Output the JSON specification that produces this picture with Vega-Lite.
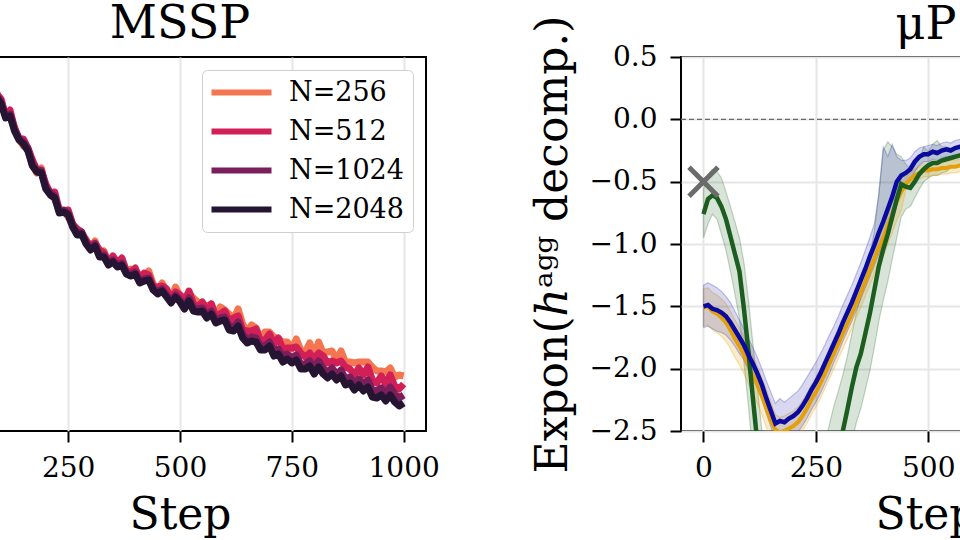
{
  "$schema": "https://vega.github.io/schema/vega-lite/v6.json",
  "background": "white",
  "autosize": {"type": "none"},
  "padding": {"left": -66, "right": 1026, "top": 57, "bottom": 483},
  "resolve": {"legend": {"color": "independent"}, "scale": {"color": "independent"}},
  "datasets": {
    "mssp": [
      {"step":0,"n256":4.22,"n512":4.26,"n1024":4.23,"n2048":4.21},
      {"step":10,"n256":4.17,"n512":4.16,"n1024":4.16,"n2048":4.14},
      {"step":20,"n256":3.99,"n512":4.06,"n1024":4.02,"n2048":4.00},
      {"step":30,"n256":4.01,"n512":4.00,"n1024":3.99,"n2048":3.97},
      {"step":40,"n256":3.84,"n512":3.84,"n1024":3.85,"n2048":3.83},
      {"step":50,"n256":3.70,"n512":3.77,"n1024":3.74,"n2048":3.72},
      {"step":60,"n256":3.69,"n512":3.69,"n1024":3.68,"n2048":3.66},
      {"step":70,"n256":3.60,"n512":3.65,"n1024":3.61,"n2048":3.59},
      {"step":80,"n256":3.41,"n512":3.44,"n1024":3.44,"n2048":3.42},
      {"step":90,"n256":3.39,"n512":3.37,"n1024":3.36,"n2048":3.34},
      {"step":100,"n256":3.28,"n512":3.32,"n1024":3.29,"n2048":3.27},
      {"step":110,"n256":3.16,"n512":3.15,"n1024":3.15,"n2048":3.13},
      {"step":120,"n256":3.14,"n512":3.21,"n1024":3.17,"n2048":3.15},
      {"step":130,"n256":3.04,"n512":3.03,"n1024":3.02,"n2048":3.00},
      {"step":140,"n256":2.92,"n512":2.92,"n1024":2.93,"n2048":2.91},
      {"step":150,"n256":2.85,"n512":2.92,"n1024":2.89,"n2048":2.87},
      {"step":160,"n256":2.83,"n512":2.83,"n1024":2.82,"n2048":2.80},
      {"step":170,"n256":2.66,"n512":2.71,"n1024":2.67,"n2048":2.65},
      {"step":180,"n256":2.58,"n512":2.61,"n1024":2.61,"n2048":2.59},
      {"step":190,"n256":2.63,"n512":2.61,"n1024":2.60,"n2048":2.58},
      {"step":200,"n256":2.43,"n512":2.47,"n1024":2.44,"n2048":2.42},
      {"step":210,"n256":2.39,"n512":2.38,"n1024":2.38,"n2048":2.36},
      {"step":220,"n256":2.32,"n512":2.39,"n1024":2.35,"n2048":2.33},
      {"step":230,"n256":2.22,"n512":2.21,"n1024":2.20,"n2048":2.18},
      {"step":240,"n256":2.20,"n512":2.20,"n1024":2.21,"n2048":2.19},
      {"step":250,"n256":2.14,"n512":2.21,"n1024":2.18,"n2048":2.16},
      {"step":260,"n256":2.07,"n512":2.07,"n1024":2.06,"n2048":2.04},
      {"step":270,"n256":1.97,"n512":2.02,"n1024":1.98,"n2048":1.96},
      {"step":280,"n256":1.96,"n512":1.99,"n1024":1.99,"n2048":1.97},
      {"step":290,"n256":1.92,"n512":1.90,"n1024":1.89,"n2048":1.87},
      {"step":300,"n256":1.82,"n512":1.86,"n1024":1.83,"n2048":1.81},
      {"step":310,"n256":1.90,"n512":1.88,"n1024":1.87,"n2048":1.85},
      {"step":320,"n256":1.75,"n512":1.81,"n1024":1.76,"n2048":1.74},
      {"step":330,"n256":1.80,"n512":1.78,"n1024":1.76,"n2048":1.74},
      {"step":340,"n256":1.69,"n512":1.68,"n1024":1.68,"n2048":1.66},
      {"step":350,"n256":1.69,"n512":1.75,"n1024":1.71,"n2048":1.69},
      {"step":360,"n256":1.69,"n512":1.68,"n1024":1.66,"n2048":1.64},
      {"step":370,"n256":1.69,"n512":1.73,"n1024":1.68,"n2048":1.66},
      {"step":380,"n256":1.58,"n512":1.60,"n1024":1.59,"n2048":1.57},
      {"step":390,"n256":1.62,"n512":1.59,"n1024":1.57,"n2048":1.55},
      {"step":400,"n256":1.60,"n512":1.63,"n1024":1.59,"n2048":1.57},
      {"step":410,"n256":1.56,"n512":1.52,"n1024":1.50,"n2048":1.48},
      {"step":420,"n256":1.54,"n512":1.58,"n1024":1.52,"n2048":1.50},
      {"step":430,"n256":1.60,"n512":1.56,"n1024":1.53,"n2048":1.51},
      {"step":440,"n256":1.47,"n512":1.44,"n1024":1.43,"n2048":1.41},
      {"step":450,"n256":1.40,"n512":1.44,"n1024":1.39,"n2048":1.37},
      {"step":460,"n256":1.48,"n512":1.45,"n1024":1.42,"n2048":1.40},
      {"step":470,"n256":1.40,"n512":1.42,"n1024":1.36,"n2048":1.34},
      {"step":480,"n256":1.32,"n512":1.32,"n1024":1.30,"n2048":1.28},
      {"step":490,"n256":1.44,"n512":1.39,"n1024":1.36,"n2048":1.34},
      {"step":500,"n256":1.35,"n512":1.36,"n1024":1.31,"n2048":1.29},
      {"step":510,"n256":1.34,"n512":1.28,"n1024":1.25,"n2048":1.22},
      {"step":520,"n256":1.38,"n512":1.40,"n1024":1.33,"n2048":1.30},
      {"step":530,"n256":1.33,"n512":1.27,"n1024":1.23,"n2048":1.20},
      {"step":540,"n256":1.29,"n512":1.24,"n1024":1.22,"n2048":1.19},
      {"step":550,"n256":1.27,"n512":1.29,"n1024":1.23,"n2048":1.20},
      {"step":560,"n256":1.25,"n512":1.20,"n1024":1.16,"n2048":1.13},
      {"step":570,"n256":1.27,"n512":1.27,"n1024":1.20,"n2048":1.17},
      {"step":580,"n256":1.16,"n512":1.14,"n1024":1.11,"n2048":1.08},
      {"step":590,"n256":1.24,"n512":1.17,"n1024":1.13,"n2048":1.10},
      {"step":600,"n256":1.21,"n512":1.20,"n1024":1.14,"n2048":1.11},
      {"step":610,"n256":1.17,"n512":1.10,"n1024":1.05,"n2048":1.01},
      {"step":620,"n256":1.12,"n512":1.13,"n1024":1.04,"n2048":1.00},
      {"step":630,"n256":1.22,"n512":1.15,"n1024":1.09,"n2048":1.05},
      {"step":640,"n256":1.07,"n512":1.01,"n1024":0.97,"n2048":0.93},
      {"step":650,"n256":0.99,"n512":1.00,"n1024":0.92,"n2048":0.88},
      {"step":660,"n256":1.06,"n512":1.00,"n1024":0.94,"n2048":0.90},
      {"step":670,"n256":1.03,"n512":1.02,"n1024":0.93,"n2048":0.89},
      {"step":680,"n256":0.93,"n512":0.90,"n1024":0.85,"n2048":0.81},
      {"step":690,"n256":0.99,"n512":0.91,"n1024":0.85,"n2048":0.81},
      {"step":700,"n256":0.99,"n512":0.97,"n1024":0.89,"n2048":0.85},
      {"step":710,"n256":0.94,"n512":0.87,"n1024":0.80,"n2048":0.75},
      {"step":720,"n256":0.92,"n512":0.93,"n1024":0.82,"n2048":0.77},
      {"step":730,"n256":0.89,"n512":0.82,"n1024":0.74,"n2048":0.69},
      {"step":740,"n256":0.89,"n512":0.83,"n1024":0.77,"n2048":0.72},
      {"step":750,"n256":0.82,"n512":0.83,"n1024":0.73,"n2048":0.68},
      {"step":760,"n256":0.92,"n512":0.84,"n1024":0.76,"n2048":0.71},
      {"step":770,"n256":0.81,"n512":0.78,"n1024":0.67,"n2048":0.62},
      {"step":780,"n256":0.79,"n512":0.74,"n1024":0.67,"n2048":0.62},
      {"step":790,"n256":0.88,"n512":0.78,"n1024":0.70,"n2048":0.65},
      {"step":800,"n256":0.76,"n512":0.72,"n1024":0.62,"n2048":0.57},
      {"step":810,"n256":0.89,"n512":0.78,"n1024":0.70,"n2048":0.64},
      {"step":820,"n256":0.78,"n512":0.75,"n1024":0.63,"n2048":0.57},
      {"step":830,"n256":0.79,"n512":0.68,"n1024":0.59,"n2048":0.53},
      {"step":840,"n256":0.80,"n512":0.70,"n1024":0.63,"n2048":0.57},
      {"step":850,"n256":0.71,"n512":0.68,"n1024":0.57,"n2048":0.51},
      {"step":860,"n256":0.80,"n512":0.70,"n1024":0.61,"n2048":0.55},
      {"step":870,"n256":0.69,"n512":0.64,"n1024":0.52,"n2048":0.46},
      {"step":880,"n256":0.69,"n512":0.62,"n1024":0.54,"n2048":0.48},
      {"step":890,"n256":0.68,"n512":0.56,"n1024":0.47,"n2048":0.41},
      {"step":900,"n256":0.69,"n512":0.63,"n1024":0.52,"n2048":0.46},
      {"step":910,"n256":0.69,"n512":0.56,"n1024":0.47,"n2048":0.40},
      {"step":920,"n256":0.69,"n512":0.64,"n1024":0.51,"n2048":0.44},
      {"step":930,"n256":0.64,"n512":0.51,"n1024":0.41,"n2048":0.34},
      {"step":940,"n256":0.60,"n512":0.48,"n1024":0.40,"n2048":0.33},
      {"step":950,"n256":0.60,"n512":0.55,"n1024":0.43,"n2048":0.36},
      {"step":960,"n256":0.59,"n512":0.47,"n1024":0.38,"n2048":0.30},
      {"step":970,"n256":0.63,"n512":0.56,"n1024":0.44,"n2048":0.36},
      {"step":980,"n256":0.54,"n512":0.45,"n1024":0.37,"n2048":0.29},
      {"step":990,"n256":0.56,"n512":0.42,"n1024":0.33,"n2048":0.25},
      {"step":1000,"n256":0.55,"n512":0.47,"n1024":0.36,"n2048":0.28}
    ],
    "mup": [
      {"step":0,"b":-1.50,"bl":-1.67,"bh":-1.33,"o":-1.51,"ol":-1.66,"oh":-1.36,"g":-0.76,"gl":-0.95,"gh":-0.56},
      {"step":10,"b":-1.49,"bl":-1.66,"bh":-1.31,"o":-1.50,"ol":-1.65,"oh":-1.35,"g":-0.64,"gl":-0.84,"gh":-0.44},
      {"step":20,"b":-1.52,"bl":-1.68,"bh":-1.33,"o":-1.54,"ol":-1.69,"oh":-1.39,"g":-0.61,"gl":-0.76,"gh":-0.40},
      {"step":30,"b":-1.53,"bl":-1.70,"bh":-1.35,"o":-1.56,"ol":-1.71,"oh":-1.41,"g":-0.63,"gl":-0.80,"gh":-0.42},
      {"step":40,"b":-1.55,"bl":-1.71,"bh":-1.38,"o":-1.59,"ol":-1.74,"oh":-1.44,"g":-0.70,"gl":-0.92,"gh":-0.47},
      {"step":50,"b":-1.58,"bl":-1.73,"bh":-1.42,"o":-1.63,"ol":-1.78,"oh":-1.48,"g":-0.80,"gl":-1.05,"gh":-0.58},
      {"step":60,"b":-1.63,"bl":-1.77,"bh":-1.47,"o":-1.69,"ol":-1.84,"oh":-1.54,"g":-0.94,"gl":-1.22,"gh":-0.70},
      {"step":70,"b":-1.69,"bl":-1.82,"bh":-1.54,"o":-1.76,"ol":-1.91,"oh":-1.61,"g":-1.08,"gl":-1.40,"gh":-0.82},
      {"step":80,"b":-1.75,"bl":-1.88,"bh":-1.61,"o":-1.82,"ol":-1.97,"oh":-1.67,"g":-1.22,"gl":-1.60,"gh":-0.95},
      {"step":90,"b":-1.81,"bl":-1.93,"bh":-1.68,"o":-1.89,"ol":-2.04,"oh":-1.74,"g":-1.52,"gl":-1.95,"gh":-1.15},
      {"step":100,"b":-1.89,"bl":-2.01,"bh":-1.76,"o":-1.97,"ol":-2.12,"oh":-1.82,"g":-1.86,"gl":-2.30,"gh":-1.45},
      {"step":110,"b":-1.96,"bl":-2.08,"bh":-1.83,"o":-2.05,"ol":-2.20,"oh":-1.90,"g":-2.24,"gl":-2.70,"gh":-1.80},
      {"step":120,"b":-2.04,"bl":-2.16,"bh":-1.91,"o":-2.13,"ol":-2.28,"oh":-1.98,"g":-2.60,"gl":-3.05,"gh":-2.15},
      {"step":130,"b":-2.13,"bl":-2.25,"bh":-2.00,"o":-2.22,"ol":-2.37,"oh":-2.07,"g":-2.95,"gl":-3.40,"gh":-2.50},
      {"step":140,"b":-2.24,"bl":-2.36,"bh":-2.10,"o":-2.32,"ol":-2.47,"oh":-2.17,"g":-3.30,"gl":-3.70,"gh":-2.90},
      {"step":150,"b":-2.34,"bl":-2.47,"bh":-2.19,"o":-2.42,"ol":-2.57,"oh":-2.27,"g":-3.55,"gl":-3.95,"gh":-3.15},
      {"step":160,"b":-2.44,"bl":-2.58,"bh":-2.28,"o":-2.49,"ol":-2.61,"oh":-2.37,"g":-3.75,"gl":-4.15,"gh":-3.35},
      {"step":170,"b":-2.42,"bl":-2.58,"bh":-2.24,"o":-2.51,"ol":-2.63,"oh":-2.39,"g":-3.90,"gl":-4.30,"gh":-3.50},
      {"step":180,"b":-2.43,"bl":-2.57,"bh":-2.27,"o":-2.50,"ol":-2.62,"oh":-2.38,"g":-4.00,"gl":-4.40,"gh":-3.60},
      {"step":190,"b":-2.40,"bl":-2.55,"bh":-2.24,"o":-2.48,"ol":-2.60,"oh":-2.36,"g":-4.05,"gl":-4.45,"gh":-3.65},
      {"step":200,"b":-2.38,"bl":-2.53,"bh":-2.21,"o":-2.46,"ol":-2.58,"oh":-2.34,"g":-4.05,"gl":-4.45,"gh":-3.65},
      {"step":210,"b":-2.35,"bl":-2.51,"bh":-2.18,"o":-2.43,"ol":-2.55,"oh":-2.31,"g":-4.00,"gl":-4.40,"gh":-3.60},
      {"step":220,"b":-2.30,"bl":-2.46,"bh":-2.13,"o":-2.38,"ol":-2.50,"oh":-2.26,"g":-3.90,"gl":-4.30,"gh":-3.50},
      {"step":230,"b":-2.24,"bl":-2.40,"bh":-2.07,"o":-2.32,"ol":-2.44,"oh":-2.20,"g":-3.75,"gl":-4.15,"gh":-3.35},
      {"step":240,"b":-2.17,"bl":-2.33,"bh":-2.01,"o":-2.25,"ol":-2.37,"oh":-2.13,"g":-3.60,"gl":-4.00,"gh":-3.20},
      {"step":250,"b":-2.11,"bl":-2.27,"bh":-1.95,"o":-2.19,"ol":-2.31,"oh":-2.07,"g":-3.40,"gl":-3.80,"gh":-3.00},
      {"step":260,"b":-2.04,"bl":-2.20,"bh":-1.88,"o":-2.12,"ol":-2.24,"oh":-2.00,"g":-3.20,"gl":-3.60,"gh":-2.80},
      {"step":270,"b":-1.96,"bl":-2.12,"bh":-1.81,"o":-2.04,"ol":-2.16,"oh":-1.92,"g":-3.00,"gl":-3.40,"gh":-2.60},
      {"step":280,"b":-1.88,"bl":-2.04,"bh":-1.73,"o":-1.96,"ol":-2.08,"oh":-1.84,"g":-2.85,"gl":-3.25,"gh":-2.45},
      {"step":290,"b":-1.80,"bl":-1.95,"bh":-1.66,"o":-1.88,"ol":-2.00,"oh":-1.76,"g":-2.72,"gl":-3.12,"gh":-2.30},
      {"step":300,"b":-1.72,"bl":-1.87,"bh":-1.58,"o":-1.80,"ol":-1.92,"oh":-1.68,"g":-2.60,"gl":-3.00,"gh":-2.18},
      {"step":310,"b":-1.63,"bl":-1.78,"bh":-1.49,"o":-1.72,"ol":-1.84,"oh":-1.60,"g":-2.50,"gl":-2.95,"gh":-2.05},
      {"step":320,"b":-1.55,"bl":-1.70,"bh":-1.41,"o":-1.64,"ol":-1.76,"oh":-1.52,"g":-2.33,"gl":-2.78,"gh":-1.90},
      {"step":330,"b":-1.47,"bl":-1.62,"bh":-1.33,"o":-1.56,"ol":-1.68,"oh":-1.44,"g":-2.15,"gl":-2.60,"gh":-1.72},
      {"step":340,"b":-1.38,"bl":-1.53,"bh":-1.24,"o":-1.47,"ol":-1.59,"oh":-1.35,"g":-1.99,"gl":-2.43,"gh":-1.55},
      {"step":350,"b":-1.29,"bl":-1.44,"bh":-1.15,"o":-1.39,"ol":-1.51,"oh":-1.27,"g":-1.88,"gl":-2.32,"gh":-1.42},
      {"step":360,"b":-1.20,"bl":-1.35,"bh":-1.05,"o":-1.30,"ol":-1.42,"oh":-1.18,"g":-1.72,"gl":-2.17,"gh":-1.27},
      {"step":370,"b":-1.10,"bl":-1.26,"bh":-0.95,"o":-1.21,"ol":-1.33,"oh":-1.09,"g":-1.56,"gl":-2.02,"gh":-1.10},
      {"step":380,"b":-1.01,"bl":-1.17,"bh":-0.84,"o":-1.12,"ol":-1.24,"oh":-1.00,"g":-1.37,"gl":-1.83,"gh":-0.90},
      {"step":390,"b":-0.91,"bl":-1.08,"bh":-0.60,"o":-1.03,"ol":-1.15,"oh":-0.91,"g":-1.18,"gl":-1.62,"gh":-0.60},
      {"step":400,"b":-0.82,"bl":-1.00,"bh":-0.22,"o":-0.95,"ol":-1.10,"oh":-0.80,"g":-1.04,"gl":-1.45,"gh":-0.25},
      {"step":410,"b":-0.72,"bl":-0.92,"bh":-0.30,"o":-0.85,"ol":-1.00,"oh":-0.70,"g":-0.92,"gl":-1.30,"gh":-0.18},
      {"step":420,"b":-0.62,"bl":-0.82,"bh":-0.20,"o":-0.76,"ol":-0.91,"oh":-0.61,"g":-0.78,"gl":-1.12,"gh":-0.22},
      {"step":430,"b":-0.50,"bl":-0.68,"bh":-0.30,"o":-0.66,"ol":-0.81,"oh":-0.51,"g":-0.64,"gl":-0.95,"gh":-0.28},
      {"step":440,"b":-0.45,"bl":-0.57,"bh":-0.33,"o":-0.58,"ol":-0.73,"oh":-0.43,"g":-0.52,"gl":-0.78,"gh":-0.30},
      {"step":450,"b":-0.43,"bl":-0.52,"bh":-0.33,"o":-0.52,"ol":-0.57,"oh":-0.47,"g":-0.54,"gl":-0.72,"gh":-0.36},
      {"step":460,"b":-0.40,"bl":-0.48,"bh":-0.31,"o":-0.48,"ol":-0.53,"oh":-0.43,"g":-0.55,"gl":-0.70,"gh":-0.40},
      {"step":470,"b":-0.34,"bl":-0.42,"bh":-0.26,"o":-0.45,"ol":-0.50,"oh":-0.40,"g":-0.50,"gl":-0.63,"gh":-0.36},
      {"step":480,"b":-0.30,"bl":-0.37,"bh":-0.23,"o":-0.43,"ol":-0.48,"oh":-0.38,"g":-0.44,"gl":-0.56,"gh":-0.32},
      {"step":490,"b":-0.28,"bl":-0.34,"bh":-0.22,"o":-0.41,"ol":-0.46,"oh":-0.36,"g":-0.40,"gl":-0.50,"gh":-0.22},
      {"step":500,"b":-0.28,"bl":-0.34,"bh":-0.21,"o":-0.41,"ol":-0.46,"oh":-0.36,"g":-0.37,"gl":-0.47,"gh":-0.26},
      {"step":510,"b":-0.26,"bl":-0.32,"bh":-0.20,"o":-0.40,"ol":-0.45,"oh":-0.35,"g":-0.35,"gl":-0.45,"gh":-0.20},
      {"step":520,"b":-0.27,"bl":-0.33,"bh":-0.21,"o":-0.40,"ol":-0.45,"oh":-0.35,"g":-0.35,"gl":-0.45,"gh":-0.17},
      {"step":530,"b":-0.25,"bl":-0.31,"bh":-0.19,"o":-0.39,"ol":-0.44,"oh":-0.34,"g":-0.33,"gl":-0.43,"gh":-0.22},
      {"step":540,"b":-0.24,"bl":-0.30,"bh":-0.18,"o":-0.39,"ol":-0.44,"oh":-0.34,"g":-0.32,"gl":-0.42,"gh":-0.22},
      {"step":550,"b":-0.25,"bl":-0.31,"bh":-0.19,"o":-0.38,"ol":-0.43,"oh":-0.33,"g":-0.31,"gl":-0.39,"gh":-0.23},
      {"step":560,"b":-0.23,"bl":-0.29,"bh":-0.17,"o":-0.38,"ol":-0.43,"oh":-0.33,"g":-0.30,"gl":-0.38,"gh":-0.22},
      {"step":570,"b":-0.22,"bl":-0.28,"bh":-0.16,"o":-0.37,"ol":-0.42,"oh":-0.32,"g":-0.29,"gl":-0.37,"gh":-0.21},
      {"step":580,"b":-0.23,"bl":-0.29,"bh":-0.17,"o":-0.38,"ol":-0.43,"oh":-0.33,"g":-0.29,"gl":-0.37,"gh":-0.21},
      {"step":590,"b":-0.22,"bl":-0.28,"bh":-0.16,"o":-0.37,"ol":-0.42,"oh":-0.32,"g":-0.28,"gl":-0.36,"gh":-0.20},
      {"step":600,"b":-0.22,"bl":-0.28,"bh":-0.16,"o":-0.37,"ol":-0.42,"oh":-0.32,"g":-0.28,"gl":-0.36,"gh":-0.20}
    ]
  },
  "spacing": 89,
  "hconcat": [
    {
      "width": 492,
      "height": 374,
      "title": {"text": "MSSP", "offset": 9},
      "data": {"name": "mssp"},
      "encoding": {
        "x": {"field": "step", "type": "quantitative", "scale": {"domain": [-50, 1050], "nice": false, "zero": false}, "axis": {"values": [0, 250, 500, 750, 1000], "format": "d", "title": "Step", "grid": true, "titlePadding": 11}}
      },
      "layer": [
        {"mark": {"type": "line", "strokeWidth": 7, "clip": true, "strokeJoin": "round"},
         "encoding": {
           "y": {"field": "n256", "type": "quantitative", "scale": {"domain": [0, 3.74], "nice": false, "zero": false}, "axis": null},
           "color": {"datum": "N=256", "type": "nominal",
             "scale": {"domain": ["N=256", "N=512", "N=1024", "N=2048"], "range": ["#f37651", "#d21f57", "#7b1e5c", "#251432"]},
             "legend": {"orient": "top-right", "offset": 13, "padding": 9, "rowPadding": 11, "labelFontSize": 27, "labelColor": "black", "labelOffset": 34, "symbolOffset": 17, "symbolType": "M-3,0H3", "symbolSize": 400, "symbolStrokeWidth": 6, "symbolOpacity": 1, "fillColor": "white", "strokeColor": "#d0d0d0", "cornerRadius": 5, "title": null}}
         }},
        {"mark": {"type": "line", "strokeWidth": 7, "clip": true, "strokeJoin": "round"},
         "encoding": {
           "y": {"field": "n512", "type": "quantitative", "scale": {"domain": [0, 3.74], "nice": false, "zero": false}, "axis": null},
           "color": {"datum": "N=512", "type": "nominal"}
         }},
        {"mark": {"type": "line", "strokeWidth": 7, "clip": true, "strokeJoin": "round"},
         "encoding": {
           "y": {"field": "n1024", "type": "quantitative", "scale": {"domain": [0, 3.74], "nice": false, "zero": false}, "axis": null},
           "color": {"datum": "N=1024", "type": "nominal"}
         }},
        {"mark": {"type": "line", "strokeWidth": 7, "clip": true, "strokeJoin": "round"},
         "encoding": {
           "y": {"field": "n2048", "type": "quantitative", "scale": {"domain": [0, 3.74], "nice": false, "zero": false}, "axis": null},
           "color": {"datum": "N=2048", "type": "nominal"}
         }}
      ]
    },
    {
      "width": 490,
      "height": 374,
      "title": {"text": "μP", "offset": 9, "dy": 43},
      "layer": [
        {"data": {"values": [{}]},
         "mark": {"type": "rule", "color": "#6a6a6a", "strokeDash": [5, 3], "strokeWidth": 1.3},
         "encoding": {
           "x": {"datum": -50, "type": "quantitative", "scale": {"domain": [-50, 1040], "nice": false, "zero": false}, "axis": {"values": [0, 250, 500, 750, 1000], "format": "d", "title": "Step", "grid": true, "titlePadding": 11}},
           "x2": {"datum": 1040},
           "y": {"datum": 0, "type": "quantitative", "scale": {"domain": [-2.5, 0.5], "nice": false, "zero": false}, "axis": {"values": [-2.5, -2, -1.5, -1, -0.5, 0, 0.5], "format": ".1f", "title": "Expon(ℎᵃᵍᵍ decomp.)", "grid": true, "labelPadding": 13, "titlePadding": 14}}
         }},
        {"data": {"name": "mup"},
         "mark": {"type": "area", "clip": true, "fill": "#1c5e20", "fillOpacity": 0.17, "stroke": "#1c5e20", "strokeOpacity": 0.25, "strokeWidth": 1.2},
         "encoding": {
           "x": {"field": "step", "type": "quantitative", "scale": {"domain": [-50, 1040], "nice": false, "zero": false}, "axis": {"values": [0, 250, 500, 750, 1000], "format": "d", "title": "Step", "grid": true, "titlePadding": 11}},
           "y": {"field": "gl", "type": "quantitative", "scale": {"domain": [-2.5, 0.5], "nice": false, "zero": false}, "axis": {"values": [-2.5, -2, -1.5, -1, -0.5, 0, 0.5], "format": ".1f", "title": "Expon(ℎᵃᵍᵍ decomp.)", "grid": true, "labelPadding": 13, "titlePadding": 14}},
           "y2": {"field": "gh"}
         }},
        {"data": {"name": "mup"},
         "mark": {"type": "area", "clip": true, "fill": "#e3a008", "fillOpacity": 0.2, "stroke": "#e3a008", "strokeOpacity": 0.3, "strokeWidth": 1.2},
         "encoding": {
           "x": {"field": "step", "type": "quantitative", "scale": {"domain": [-50, 1040], "nice": false, "zero": false}, "axis": {"values": [0, 250, 500, 750, 1000], "format": "d", "title": "Step", "grid": true, "titlePadding": 11}},
           "y": {"field": "ol", "type": "quantitative", "scale": {"domain": [-2.5, 0.5], "nice": false, "zero": false}, "axis": {"values": [-2.5, -2, -1.5, -1, -0.5, 0, 0.5], "format": ".1f", "title": "Expon(ℎᵃᵍᵍ decomp.)", "grid": true, "labelPadding": 13, "titlePadding": 14}},
           "y2": {"field": "oh"}
         }},
        {"data": {"name": "mup"},
         "mark": {"type": "area", "clip": true, "fill": "#3a3ab5", "fillOpacity": 0.2, "stroke": "#3a3ab5", "strokeOpacity": 0.3, "strokeWidth": 1.2},
         "encoding": {
           "x": {"field": "step", "type": "quantitative", "scale": {"domain": [-50, 1040], "nice": false, "zero": false}, "axis": {"values": [0, 250, 500, 750, 1000], "format": "d", "title": "Step", "grid": true, "titlePadding": 11}},
           "y": {"field": "bl", "type": "quantitative", "scale": {"domain": [-2.5, 0.5], "nice": false, "zero": false}, "axis": {"values": [-2.5, -2, -1.5, -1, -0.5, 0, 0.5], "format": ".1f", "title": "Expon(ℎᵃᵍᵍ decomp.)", "grid": true, "labelPadding": 13, "titlePadding": 14}},
           "y2": {"field": "bh"}
         }},
        {"data": {"name": "mup"},
         "mark": {"type": "line", "clip": true, "color": "#e3a008", "strokeWidth": 4},
         "encoding": {
           "x": {"field": "step", "type": "quantitative", "scale": {"domain": [-50, 1040], "nice": false, "zero": false}, "axis": {"values": [0, 250, 500, 750, 1000], "format": "d", "title": "Step", "grid": true, "titlePadding": 11}},
           "y": {"field": "o", "type": "quantitative", "scale": {"domain": [-2.5, 0.5], "nice": false, "zero": false}, "axis": {"values": [-2.5, -2, -1.5, -1, -0.5, 0, 0.5], "format": ".1f", "title": "Expon(ℎᵃᵍᵍ decomp.)", "grid": true, "labelPadding": 13, "titlePadding": 14}}
         }},
        {"data": {"name": "mup"},
         "mark": {"type": "line", "clip": true, "color": "#1c5e20", "strokeWidth": 4.5},
         "encoding": {
           "x": {"field": "step", "type": "quantitative", "scale": {"domain": [-50, 1040], "nice": false, "zero": false}, "axis": {"values": [0, 250, 500, 750, 1000], "format": "d", "title": "Step", "grid": true, "titlePadding": 11}},
           "y": {"field": "g", "type": "quantitative", "scale": {"domain": [-2.5, 0.5], "nice": false, "zero": false}, "axis": {"values": [-2.5, -2, -1.5, -1, -0.5, 0, 0.5], "format": ".1f", "title": "Expon(ℎᵃᵍᵍ decomp.)", "grid": true, "labelPadding": 13, "titlePadding": 14}}
         }},
        {"data": {"name": "mup"},
         "mark": {"type": "line", "clip": true, "color": "#0a0a9e", "strokeWidth": 4.5},
         "encoding": {
           "x": {"field": "step", "type": "quantitative", "scale": {"domain": [-50, 1040], "nice": false, "zero": false}, "axis": {"values": [0, 250, 500, 750, 1000], "format": "d", "title": "Step", "grid": true, "titlePadding": 11}},
           "y": {"field": "b", "type": "quantitative", "scale": {"domain": [-2.5, 0.5], "nice": false, "zero": false}, "axis": {"values": [-2.5, -2, -1.5, -1, -0.5, 0, 0.5], "format": ".1f", "title": "Expon(ℎᵃᵍᵍ decomp.)", "grid": true, "labelPadding": 13, "titlePadding": 14}}
         }},
        {"data": {"values": [{"step": 0, "v": -0.5}]},
         "mark": {"type": "point", "shape": "M-1,-1L1,1M-1,1L1,-1", "size": 841, "stroke": "#6b6b6b", "strokeWidth": 5, "filled": false, "opacity": 1},
         "encoding": {
           "x": {"field": "step", "type": "quantitative", "scale": {"domain": [-50, 1040], "nice": false, "zero": false}, "axis": {"values": [0, 250, 500, 750, 1000], "format": "d", "title": "Step", "grid": true, "titlePadding": 11}},
           "y": {"field": "v", "type": "quantitative", "scale": {"domain": [-2.5, 0.5], "nice": false, "zero": false}, "axis": {"values": [-2.5, -2, -1.5, -1, -0.5, 0, 0.5], "format": ".1f", "title": "Expon(ℎᵃᵍᵍ decomp.)", "grid": true, "labelPadding": 13, "titlePadding": 14}}
         }}
      ]
    }
  ],
  "config": {
    "font": "DejaVu Serif",
    "view": {"stroke": "black", "strokeWidth": 2},
    "axis": {"domain": false, "tickColor": "black", "tickWidth": 2, "tickSize": 11, "labelFontSize": 28, "labelColor": "black", "titleFontSize": 44, "titleFontWeight": "normal", "titleColor": "black", "gridColor": "#e6e6e6", "gridWidth": 2, "labelPadding": 12, "labelFlush": false},
    "title": {"fontSize": 46, "fontWeight": "normal", "color": "black", "offset": 18}
  }
}
